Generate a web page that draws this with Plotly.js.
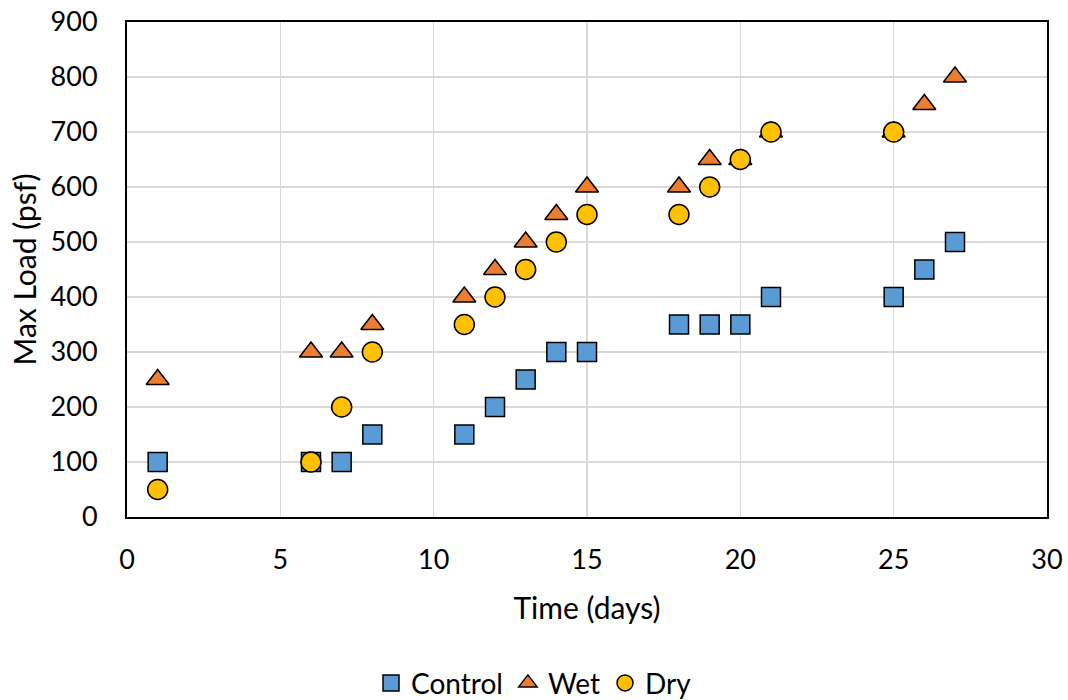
<!DOCTYPE html>
<html>
<head>
<meta charset="utf-8">
<script src="https://cdn.plot.ly/plotly-3.0.1.min.js"></script>
<style>html,body{margin:0;padding:0;background:#fff;}#chart{width:1068px;height:700px;}</style>
</head>
<body>
<div id="chart"></div>
<script>
var controlDays = [1, 6, 7, 8, 11, 12, 13, 14, 15, 18, 19, 20, 21, 25, 26, 27];
var controlLoad = [100, 100, 100, 150, 150, 200, 250, 300, 300, 350, 350, 350, 400, 400, 450, 500];
var wetDays = [1, 6, 7, 8, 11, 12, 13, 14, 15, 18, 19, 20, 21, 25, 26, 27];
var wetLoad = [250, 300, 300, 350, 400, 450, 500, 550, 600, 600, 650, 650, 700, 700, 750, 800];
var dryDays = [1, 6, 7, 8, 11, 12, 13, 14, 15, 18, 19, 20, 21, 25];
var dryLoad = [50, 100, 200, 300, 350, 400, 450, 500, 550, 550, 600, 650, 700, 700];

var line = {color: '#000000', width: 1.5};
var data = [
  {x: controlDays, y: controlLoad, name: 'Control', type: 'scatter', mode: 'markers',
   marker: {symbol: 'square', size: 19, color: '#5B9BD5', line: line}},
  {x: wetDays, y: wetLoad, name: 'Wet', type: 'scatter', mode: 'markers',
   marker: {symbol: 'triangle-up', size: 20, color: '#ED7D31', line: line}},
  {x: dryDays, y: dryLoad, name: 'Dry', type: 'scatter', mode: 'markers',
   marker: {symbol: 'circle', size: 20, color: '#FFC000', line: line}}
];
var fam = 'Lato, "Open Sans", sans-serif';
var tickFont = {family: fam, size: 27, color: '#000'};
var titleFont = {family: fam, size: 30, color: '#000'};
var layout = {
  width: 1068, height: 700,
  margin: {l: 127, r: 21, t: 22, b: 183, autoexpand: false},
  paper_bgcolor: '#fff', plot_bgcolor: '#fff',
  font: tickFont,
  showlegend: true,
  legend: {orientation: 'h', xref: 'container', x: 0.5, xanchor: 'center', yref: 'container', y: 0.024, yanchor: 'middle',
           font: {family: fam, size: 28, color: '#000'}, itemwidth: 30, tracegroupgap: 0},
  xaxis: {range: [0, 30], dtick: 5, tick0: 0, showgrid: true, gridcolor: '#d9d9d9', gridwidth: 1.5,
          zeroline: false, showline: true, linecolor: '#000', linewidth: 2, mirror: true, automargin: false,
          ticks: '', ticklabelstandoff: 18, tickfont: tickFont,
          title: {text: 'Time (days)', font: titleFont, standoff: 24}},
  yaxis: {range: [0, 900], dtick: 100, tick0: 0, showgrid: true, gridcolor: '#d9d9d9', gridwidth: 1.5,
          zeroline: false, showline: true, linecolor: '#000', linewidth: 2, mirror: true, automargin: false,
          ticks: '', ticklabelstandoff: 22, tickfont: tickFont,
          title: {text: 'Max Load (psf)', font: titleFont, standoff: 5}}
};
Plotly.newPlot('chart', data, layout, {displayModeBar: false, staticPlot: true});
</script>
</body>
</html>
